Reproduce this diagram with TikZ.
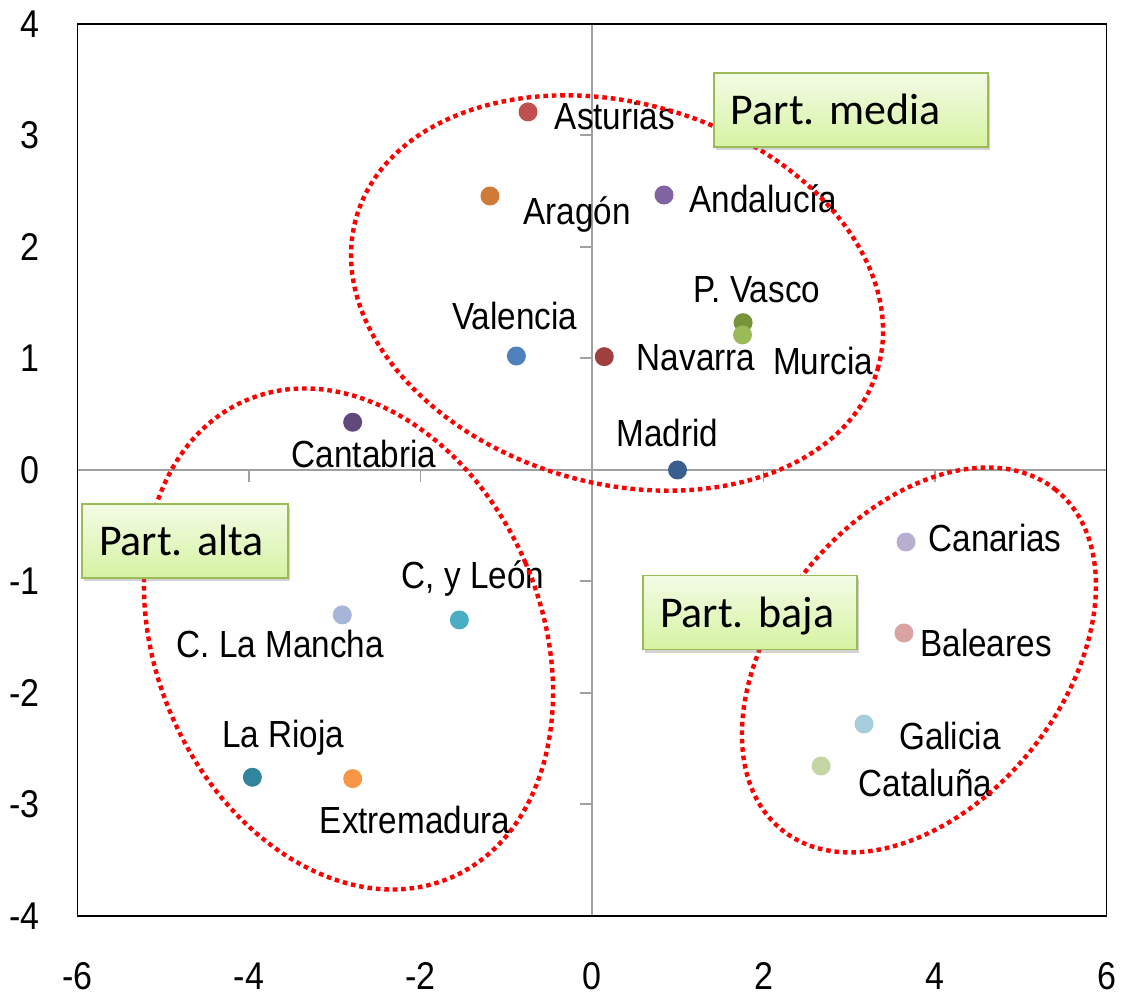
\documentclass[tikz,border=0pt]{standalone}
\usepackage{fontspec}
\setmainfont{Liberation Sans}
\newfontfamily\boxfont{Carlito}
\usetikzlibrary{shadows}
\frenchspacing

\definecolor{ejegris}{HTML}{A0A0A0}
\definecolor{partborde}{HTML}{9BBB59}
\definecolor{partarriba}{HTML}{F3FBE6}
\definecolor{partabajo}{HTML}{D6F3A2}
\definecolor{cAst}{HTML}{C0504D}
\definecolor{cAra}{HTML}{CF7A36}
\definecolor{cAnd}{HTML}{8064A2}
\definecolor{cPva}{HTML}{77933C}
\definecolor{cMur}{HTML}{9BBB59}
\definecolor{cVal}{HTML}{4F81BD}
\definecolor{cNav}{HTML}{A0403E}
\definecolor{cMad}{HTML}{3A5F8E}
\definecolor{cCan}{HTML}{604A7B}
\definecolor{cCyl}{HTML}{4BACC6}
\definecolor{cClm}{HTML}{A7B6D8}
\definecolor{cRio}{HTML}{31859C}
\definecolor{cExt}{HTML}{F79646}
\definecolor{cCnr}{HTML}{B8AECF}
\definecolor{cBal}{HTML}{D9A3A3}
\definecolor{cGal}{HTML}{A5CDDB}
\definecolor{cCat}{HTML}{C4D6A4}

\begin{document}
\begin{tikzpicture}[x=1.715cm,y=2.23cm,
  dot/.style={circle,inner sep=0pt,minimum size=0.38cm},
  lbl/.style={anchor=base,inner sep=0pt,xscale=0.88,font=\fontsize{21.5}{24}\selectfont},
  num/.style={inner sep=0pt,xscale=0.88,font=\fontsize{22}{24}\selectfont},
  eje/.style={draw=ejegris,line width=1.1pt},
  grupo/.style={draw=red,line width=2.5pt,dash pattern=on 2.6pt off 2.2pt},
  partbox/.style={draw=partborde,line width=0.9pt,top color=partarriba,bottom color=partabajo,
    drop shadow={shadow xshift=1.2pt,shadow yshift=-1.8pt,opacity=0.35},
    inner xsep=0.34cm,inner ysep=0pt,text height=1.04cm,text depth=0.44cm,align=left,
    font=\boxfont\fontsize{25}{28}\selectfont}]

\path[use as bounding box](-6.904,-4.717) rectangle (6.169,4.215);

\draw[eje](-6,0)--(6,0);
\draw[eje](0,-4)--(0,4);
\foreach \t in {-4,-2,2,4} \draw[eje](\t,0)--++(0,-0.24cm);
\foreach \t in {-3,...,3} \draw[eje](0,\t)--++(-0.24cm,0);
\draw[line width=1pt](-6,-4) rectangle (6,4);

\foreach \t in {-6,-4,...,6} \node[num](xt\t) at (\t,-4.538){\t};
\foreach \t in {-4,...,4} \node[num,anchor=east](yt\t) at (-6.437,\t){\t};

\node[dot,fill=cAst](ast) at (-0.746,3.211){};
\node[dot,fill=cAra](ara) at (-1.190,2.457){};
\node[dot,fill=cAnd](and) at (0.840,2.466){};
\node[dot,fill=cPva](pva) at (1.762,1.321){};
\node[dot,fill=cMur](mur) at (1.755,1.211){};
\node[dot,fill=cVal](val) at (-0.882,1.022){};
\node[dot,fill=cNav](nav) at (0.143,1.016){};
\node[dot,fill=cMad](mad) at (0.997,0.0){};
\node[dot,fill=cCan](can) at (-2.791,0.428){};
\node[dot,fill=cCyl](cyl) at (-1.547,-1.345){};
\node[dot,fill=cClm](clm) at (-2.912,-1.300){};
\node[dot,fill=cRio](rio) at (-3.961,-2.756){};
\node[dot,fill=cExt](ext) at (-2.791,-2.768){};
\node[dot,fill=cCnr](cnr) at (3.662,-0.646){};
\node[dot,fill=cBal](bal) at (3.638,-1.462){};
\node[dot,fill=cGal](gal) at (3.172,-2.278){};
\node[dot,fill=cCat](cat) at (2.671,-2.655){};

\node[lbl](ast-l) at (0.268,3.049){Asturias};
\node[lbl](ara-l) at (-0.175,2.197){Aragón};
\node[lbl](and-l) at (2.000,2.305){Andalucía};
\node[lbl](pva-l) at (1.924,1.498){P. Vasco};
\node[lbl](mur-l) at (2.694,0.852){Murcia};
\node[lbl](val-l) at (-0.903,1.256){Valencia};
\node[lbl](nav-l) at (1.213,0.888){Navarra};
\node[lbl](mad-l) at (0.880,0.206){Madrid};
\node[lbl](can-l) at (-2.659,0.018){Cantabria};
\node[lbl](cyl-l) at (-1.388,-1.067){C, y León};
\node[lbl](clm-l) at (-3.633,-1.686){C. La Mancha};
\node[lbl](rio-l) at (-3.603,-2.493){La Rioja};
\node[lbl](ext-l) at (-2.064,-3.256){Extremadura};
\node[lbl](cnr-l) at (4.700,-0.735){Canarias};
\node[lbl](bal-l) at (4.595,-1.677){Baleares};
\node[lbl](gal-l) at (4.175,-2.511){Galicia};
\node[lbl](cat-l) at (3.889,-2.933){Cataluña};

\coordinate(cmedia) at (0.292,1.587);
\coordinate(calta) at (-2.840,-1.516);
\coordinate(cbaja) at (3.813,-1.704);
\draw[grupo,rotate around={-16.3:(cmedia)}](cmedia) ellipse [x radius=5.43cm,y radius=3.80cm];
\draw[grupo,rotate around={23.2:(calta)}](calta) ellipse [x radius=3.854cm,y radius=5.194cm];
\draw[grupo,rotate around={51.1:(cbaja)}](cbaja) ellipse [x radius=4.366cm,y radius=2.878cm];

\node[partbox,text width=4.8cm](media) at (3.020,3.229){\mbox{Part. media}};
\node[partbox,text width=3.44cm](alta) at (-4.746,-0.637){\mbox{Part. alta}};
\node[partbox,text width=3.6cm](baja) at (1.843,-1.278){\mbox{Part. baja}};

\end{tikzpicture}
\end{document}
